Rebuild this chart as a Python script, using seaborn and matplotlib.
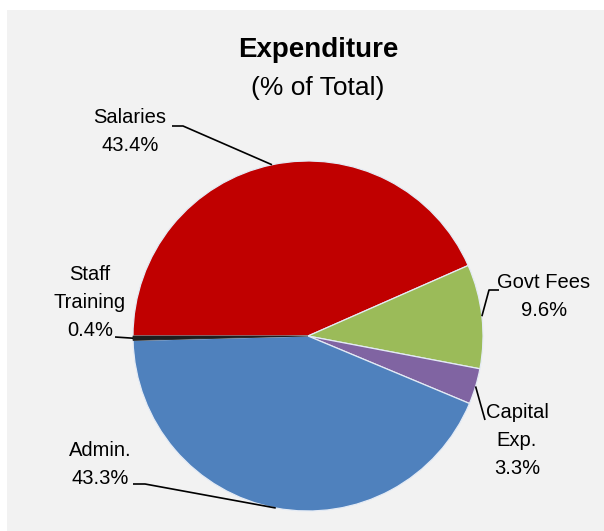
import numpy as np
import matplotlib
matplotlib.use("Agg")
import matplotlib.pyplot as plt
from matplotlib.patches import Rectangle
import seaborn as sns

# Expenditure shares, in drawing order (clockwise from 9 o'clock)
categories = ["Salaries", "Govt Fees", "Capital\nExp.", "Admin.", "Staff\nTraining"]
shares = [43.4, 9.6, 3.3, 43.3, 0.4]
colors = ["#C00000", "#9BBB59", "#8064A2", "#4F81BD", "#1E1E1E"]

sns.set_theme(style="white")
plt.rcParams["font.family"] = ["Liberation Sans Narrow", "Liberation Sans", "DejaVu Sans"]

W, H = 604, 531
fig = plt.figure(figsize=(W / 100, H / 100), dpi=100, facecolor="white")

# grey chart area
fig.patches.append(Rectangle((7 / W, 0), 1 - 7 / W, 1 - 10 / H,
                             transform=fig.transFigure, facecolor="#F2F2F2",
                             edgecolor="none", zorder=-5))

cx, cy, r = 308, 336, 175
ax = fig.add_axes([(cx - r) / W, (H - cy - r) / H, 2 * r / W, 2 * r / H])
ax.set_facecolor("none")
ax.set_zorder(2)

palette = sns.color_palette(colors)
wedges, _ = ax.pie(shares, colors=palette, startangle=180, counterclock=False,
                   radius=1.0, wedgeprops=dict(edgecolor="#E4EBF5", linewidth=0.9))
wedges[-1].set_edgecolor(colors[-1])
wedges[-1].set_linewidth(0.6)
ax.set_xlim(-1, 1)
ax.set_ylim(-1, 1)
ax.set_aspect("auto")
ax.axis("off")


def px(x, y):
    return (x - cx) / r, (cy - y) / r


# label text centre and leader path (label side) in pixel space
label_pos = [(130, 131), (544, 296), (517, 440), (100, 464), (90, 302)]
leader_pts = [
    [(172, 126), (183, 126)],
    [(499, 290), (489, 290)],
    [(485, 420)],
    [(133, 484), (145, 484)],
    [(115, 337)],
]

for w, cat, val, lp, pts in zip(wedges, categories, shares, label_pos, leader_pts):
    mid = np.deg2rad((w.theta1 + w.theta2) / 2)
    edge = (np.cos(mid), np.sin(mid))
    path = [px(*p) for p in pts] + [edge]
    xs, ys = zip(*path)
    ax.plot(xs, ys, color="black", lw=1.2, clip_on=False, solid_capstyle="butt")
    tx, ty = px(*lp)
    ax.text(tx, ty, f"{cat}\n{val:.1f}%", ha="center", va="center",
            multialignment="center", fontsize=14.5, color="black",
            linespacing=1.6, clip_on=False)

fig.text(318 / W, 1 - 50 / H, "Expenditure", ha="center", va="center",
         fontsize=20, fontweight="bold", color="black")
fig.text(318 / W, 1 - 88 / H, "(% of Total)", ha="center", va="center",
         fontsize=19, color="black")

fig.savefig("out.png", dpi=100, facecolor=fig.get_facecolor())
